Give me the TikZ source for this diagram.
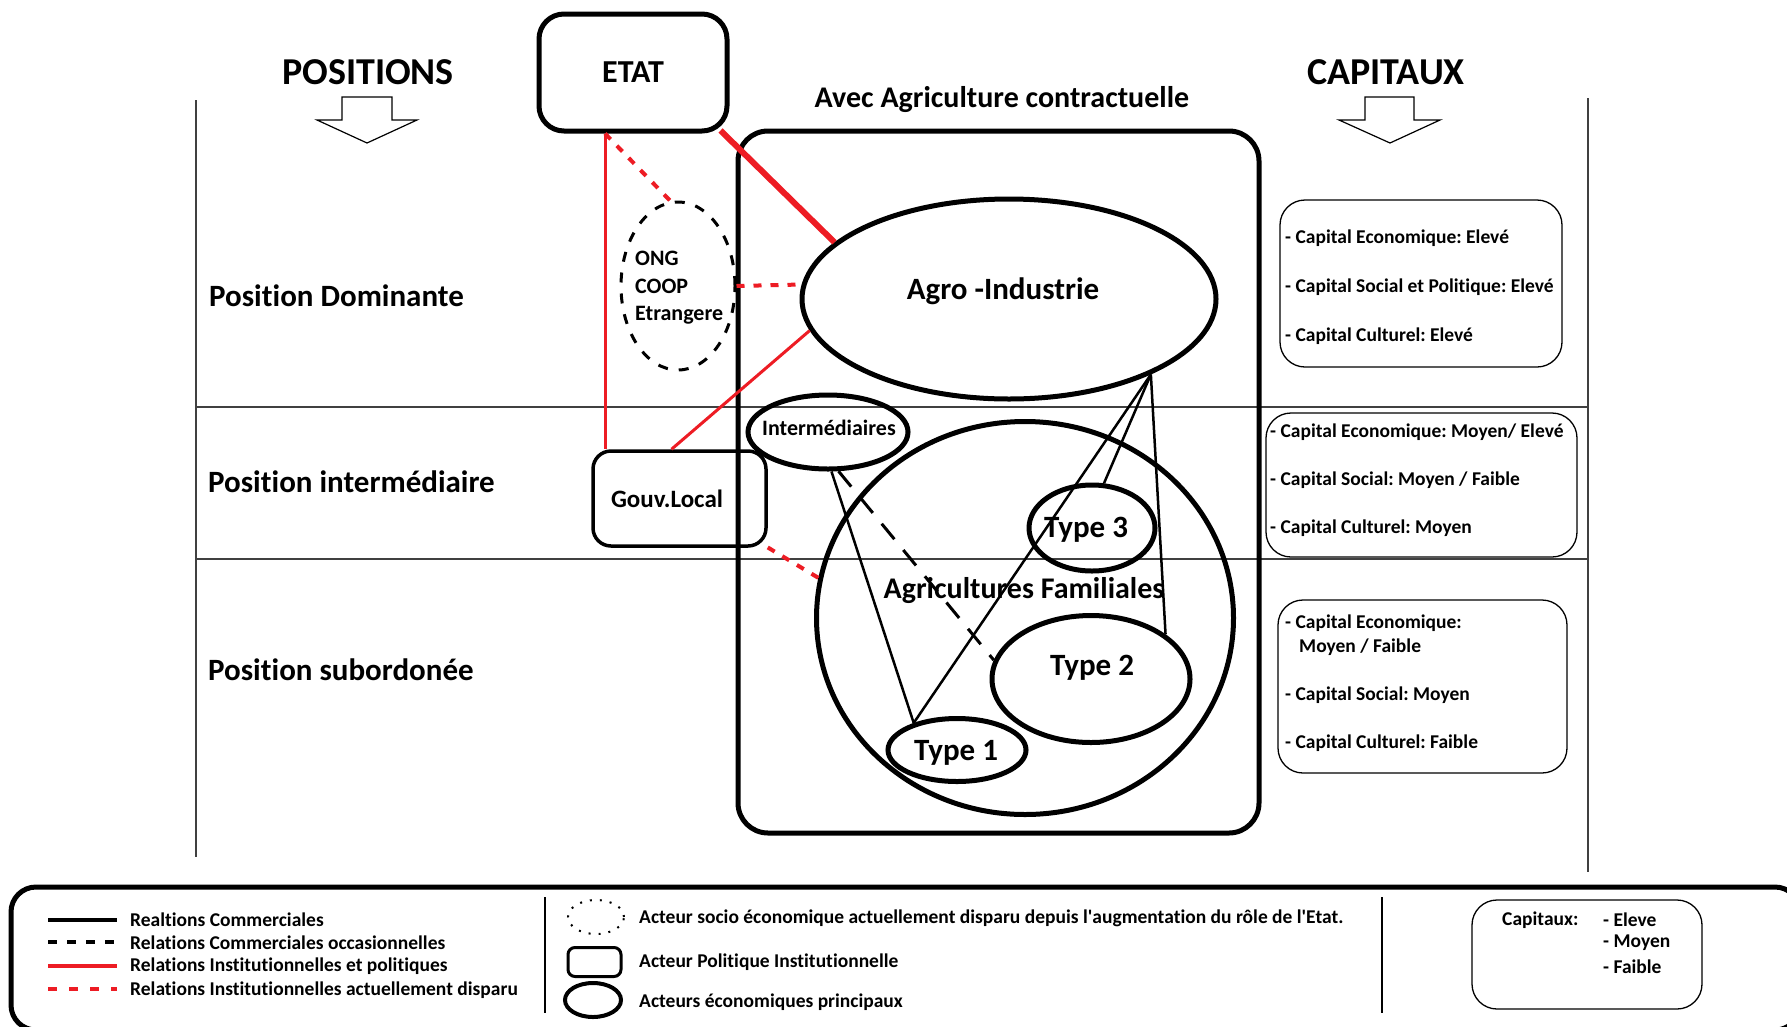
\documentclass[tikz,border=0pt]{standalone}
\usepackage{fontspec}
\setmainfont{Carlito}[Ligatures={NoCommon}]
\usetikzlibrary{shapes.geometric,calc}
\definecolor{pred}{RGB}{237,28,36}
\newcommand{\fsz}[2]{\fontsize{#1}{#2}\selectfont\bfseries\frenchspacing}
\begin{document}
\begin{tikzpicture}[x=1pt,y=-1pt,
  thickell/.style={ellipse,draw,line width=5pt,inner sep=0pt},
  capbox/.style={draw,rounded corners=25pt,line width=1.3pt,inner sep=0pt},
  gridline/.style={draw=black!75,line width=1.5pt},
  blockarrow/.style={draw,line width=1.2pt,fill=white},
  redthick/.style={draw=pred,line width=6pt},
  redthin/.style={draw=pred,line width=3pt},
  reddash/.style={draw=pred,line width=4pt,dash pattern=on 8pt off 9pt},
  blackline/.style={draw,line width=2.5pt},
  blackdash/.style={draw,line width=3pt,dash pattern=on 20pt off 14pt},
  bigtxt/.style={font=\fsz{30}{36},inner sep=0pt},
  captxt/.style={font=\fsz{19.5}{24},inner sep=0pt,anchor=west},
  legtxt/.style={font=\fsz{19.5}{24},inner sep=0pt,anchor=west},
]
\useasboundingbox (0,0) rectangle (1787,1026);
\clip (0,0) rectangle (1787,1026);

% grid
\draw[gridline] (196,100) -- (196,857);
\draw[gridline] (1588,98) -- (1588,872);
\draw[gridline] (196,407) -- (1588,407);
\draw[gridline] (196,559) -- (1588,559);

% headers
\node[font=\fsz{38}{44},inner sep=0pt] (positions) at (368,72) {POSITIONS};
\node[font=\fsz{38}{44},inner sep=0pt] (capitaux) at (1386,72) {CAPITAUX};
\draw[blockarrow] (342,97) -- (392,97) -- (392,120) -- (417,120) -- (367,143) -- (317,120) -- (342,120) -- cycle;
\draw[blockarrow] (1365,97) -- (1414,97) -- (1414,120) -- (1440,120) -- (1390,143) -- (1339,120) -- (1365,120) -- cycle;

% position labels
\node[font=\fsz{31}{36},inner sep=0pt,anchor=west] (pdom) at (209,296) {Position Dominante};
\node[font=\fsz{31}{36},inner sep=0pt,anchor=west] (pint) at (208,482) {Position intermédiaire};
\node[font=\fsz{31}{36},inner sep=0pt,anchor=west] (psub) at (208,670) {Position subordonée};

% main actors
\node[draw,rounded corners=25pt,line width=5pt,minimum width=188pt,minimum height=117pt,inner sep=0pt,font=\fsz{32}{38}] (etat) at (633,72.5) {ETAT};
\node[bigtxt] (avec) at (1002,100) {Avec Agriculture contractuelle};
\node[draw,rounded corners=30pt,line width=5pt,minimum width=521pt,minimum height=702pt,inner sep=0pt] (bigbox) at (998.5,482) {};

\node[thickell,minimum width=414pt,minimum height=200pt] (agro) at (1009,299) {};
\node[font=\fsz{31}{36},inner sep=0pt] (agrot) at (1003,291) {Agro -Industrie};

\node[ellipse,draw,line width=3pt,dash pattern=on 10pt off 11pt,minimum width=114pt,minimum height=168pt,inner sep=0pt] (ong) at (678,286) {};
\node[font=\fsz{22}{27.5},align=left,anchor=west,inner sep=0pt] (ongt) at (635,288) {ONG\\COOP\\Etrangere};

\node[thickell,minimum width=160pt,minimum height=74pt] (inter) at (828,432) {};
\node[font=\fsz{22}{26},inner sep=0pt] (intert) at (829,428) {Intermédiaires};

\node[draw,rounded corners=18pt,line width=3.5pt,minimum width=173pt,minimum height=95pt,inner sep=0pt] (gouv) at (679.5,498.5) {};
\node[font=\fsz{25}{30},inner sep=0pt] (gouvt) at (667,499) {Gouv.Local};

\node[thickell,minimum width=417pt,minimum height=393pt] (agf) at (1025,618) {};
\node[bigtxt] (agft) at (1024,591) {Agricultures Familiales};

\node[thickell,minimum width=126pt,minimum height=86pt] (t3) at (1092,528) {};
\node[font=\fsz{31}{36},inner sep=0pt] (t3t) at (1086,530) {Type 3};
\node[thickell,minimum width=198pt,minimum height=127pt] (t2) at (1091,679) {};
\node[font=\fsz{31}{36},inner sep=0pt] (t2t) at (1092,668) {Type 2};
\node[thickell,minimum width=138pt,minimum height=63pt] (t1) at (957,750) {};
\node[font=\fsz{31}{36},inner sep=0pt] (t1t) at (956,753) {Type 1};

% connectors
\coordinate (rv) at (605,0);
\draw[redthin] (rv |- etat.south) -- (rv |- gouv.north);
\draw[redthick] ([shift={(-9,-3)}]etat.south east) -- (agro.162.5);
\draw[reddash] (rv |- etat.south) -- (ong.95);
\draw[reddash] (ong.east) -- (agro.176.6);
\draw[redthin] ([xshift=-8pt]gouv.north) -- (agro.189.7);
\draw[reddash] (gouv.-29) -- (agf.169);

\coordinate (agrob) at (agro.-28);
\draw[blackline] (agrob) -- (t1.148);
\draw[blackline] (agrob) -- (t3.75);
\draw[blackline] (agrob) -- (t2.31);
\draw[blackline] (inter.-85) -- (t1.148);
\draw[blackdash] (inter.-75) -- (t2.169.5);

% capital boxes
\node[capbox,minimum width=282pt,minimum height=167pt] (cap1) at (1421,283.5) {};
\node[captxt] (c1a) at (1285,238) {- Capital Economique: Elevé};
\node[captxt] (c1b) at (1285,287) {- Capital Social et Politique: Elevé};
\node[captxt] (c1c) at (1285,336) {- Capital Culturel: Elevé};

\node[capbox,minimum width=311pt,minimum height=144pt] (cap2) at (1421.5,485) {};
\node[captxt] (c2a) at (1270,432) {- Capital Economique: Moyen/ Elevé};
\node[captxt] (c2b) at (1270,480) {- Capital Social: Moyen / Faible};
\node[captxt] (c2c) at (1270,528) {- Capital Culturel: Moyen};

\node[capbox,minimum width=289pt,minimum height=173pt] (cap3) at (1422.5,686.5) {};
\node[captxt] (c3a) at (1285,623) {- Capital Economique:};
\node[captxt] (c3b) at (1299,647) {Moyen / Faible};
\node[captxt] (c3c) at (1285,695) {- Capital Social: Moyen};
\node[captxt] (c3d) at (1285,743) {- Capital Culturel: Faible};

% legend
\node[draw,rounded corners=25pt,line width=5pt,minimum width=1789pt,minimum height=143pt,inner sep=0pt] (legend) at (905.5,958.5) {};
\draw[line width=4pt] (48,920) -- (117,920);
\draw[line width=4pt,dash pattern=on 9pt off 10pt] (48,942) -- (117,942);
\draw[line width=4pt,draw=pred] (48,966) -- (117,966);
\draw[line width=4pt,draw=pred,dash pattern=on 9pt off 12pt] (48,989) -- (117,989);
\node[legtxt] (l1) at (130,920) {Realtions Commerciales};
\node[legtxt] (l2) at (130,943) {Relations Commerciales occasionnelles};
\node[legtxt] (l3) at (130,966) {Relations Institutionnelles et politiques};
\node[legtxt] (l4) at (130,990) {Relations Institutionnelles actuellement disparu};
\draw[line width=1.5pt] (545,897) -- (545,1013);
\draw[line width=1.5pt] (1382,897) -- (1382,1013);

\node[ellipse,draw,line width=2pt,dash pattern=on 2pt off 8pt,minimum width=56pt,minimum height=34pt,inner sep=0pt] (lg1) at (596,917) {};
\node[draw,rounded corners=7pt,line width=3pt,minimum width=53pt,minimum height=29pt,inner sep=0pt] (lg2) at (594.5,962) {};
\node[ellipse,draw,line width=4pt,minimum width=56pt,minimum height=34pt,inner sep=0pt] (lg3) at (593,1000) {};
\node[legtxt] (l5) at (639,918) {Acteur socio économique actuellement disparu depuis l\textquotesingle augmentation du rôle de l\textquotesingle Etat.};
\node[legtxt] (l6) at (639,962) {Acteur Politique Institutionnelle};
\node[legtxt] (l7) at (639,1002) {Acteurs économiques principaux};

\node[capbox,minimum width=230pt,minimum height=109pt] (capleg) at (1587,954.5) {};
\node[legtxt] (cl0) at (1502,920) {Capitaux:};
\node[legtxt] (cl1) at (1603,920) {- Eleve};
\node[legtxt] (cl2) at (1603,943) {- Moyen};
\node[legtxt] (cl3) at (1603,967) {- Faible};
\end{tikzpicture}
\end{document}
